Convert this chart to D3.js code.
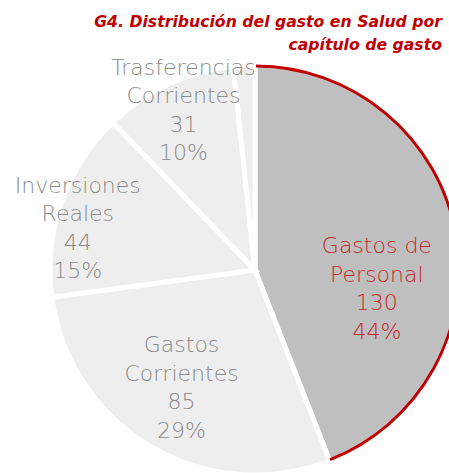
<!DOCTYPE html>
<html>
<head>
<meta charset="utf-8">
<script src="https://cdn.jsdelivr.net/npm/d3@7"></script>
<style>
  body { margin: 0; background: #fff; }
  svg { display: block; }
</style>
</head>
<body>
<script>
// data
const categories = ["Gastos de Personal", "Gastos Corrientes", "Inversiones Reales", "Trasferencias Corrientes", "Otros"];
const labelLines = [["Gastos de", "Personal"], ["Gastos", "Corrientes"], ["Inversiones", "Reales"], ["Trasferencias", "Corrientes"], []];
const values = [130, 85, 44, 31, 5];
const percents = ["44%", "29%", "15%", "10%", ""];
const titleLines = ["G4. Distribución del gasto en Salud por", "capítulo de gasto"];

function main(){
    const width = 449;
    const height = 473;
    const cx = 255, cy = 270, radius = 205;

    const svg = d3.select("body").append("svg")
        .attr("width", width)
        .attr("height", height);

    // title, right aligned
    svg.append("g").selectAll("text")
        .data(titleLines)
        .enter().append("text")
        .attr("x", 442)
        .attr("y", (d, i) => 27 + i * 23)
        .attr("text-anchor", "end")
        .attr("font-family", "'DejaVu Sans', sans-serif")
        .attr("font-weight", "bold")
        .attr("font-style", "italic")
        .attr("font-size", 15.7)
        .attr("fill", "#c00000")
        .text(d => d);

    const rows = values.map((v, i) => ({name: categories[i], lines: labelLines[i], value: v, pct: percents[i], idx: i}));

    const pie = d3.pie().sort(null).value(d => d.value);
    const arcs = pie(rows);

    const arc = d3.arc().innerRadius(0).outerRadius(radius);
    const g = svg.append("g").attr("transform", `translate(${cx},${cy})`);

    g.selectAll(".slice")
        .data(arcs)
        .enter().append("path")
        .attr("class", "slice")
        .attr("d", arc)
        .attr("fill", d => d.index === 0 ? "#bfbfbf" : "#eeeeee")
        .attr("stroke", "#fff")
        .attr("stroke-width", 5)
        .attr("stroke-linejoin", "miter");

    // red border on the outer edge of the main slice
    const rim = d3.arc().innerRadius(radius - 1).outerRadius(radius - 1);
    g.append("path")
        .attr("d", rim({startAngle: arcs[0].startAngle + 0.005, endAngle: arcs[0].endAngle - 0.004}))
        .attr("fill", "none")
        .attr("stroke", "#c00000")
        .attr("stroke-width", 3);

    // label placement: radius fraction and nudge per slice
    const labelRadius = [0.6, 0.6, 0.9, 0.86, 0];
    const nudge = [[1, 41], [-11, 11], [-3, 18], [3, -1], [0, 0]];
    const lineH = 28.5;

    arcs.forEach((d, i) => {
        if (!d.data.lines.length) return;
        const la = d3.arc().innerRadius(radius * labelRadius[i]).outerRadius(radius * labelRadius[i]);
        const c = la.centroid(d);
        const x = c[0] + nudge[i][0];
        const y = c[1] + nudge[i][1];
        const lines = d.data.lines.concat([String(d.data.value), d.data.pct]);
        const top = y - (lines.length - 1) * lineH / 2 + 8;
        g.append("g").selectAll("text")
            .data(lines)
            .enter().append("text")
            .attr("x", x)
            .attr("y", (t, j) => top + j * lineH)
            .attr("text-anchor", "middle")
            .attr("font-family", "'DejaVu Sans', sans-serif")
            .attr("font-weight", 200)
            .attr("font-size", 22)
            .attr("fill", i === 0 ? "#c62828" : "#8a8a8a")
            .text(t => t);
    });
}
main();
</script>
</body>
</html>
